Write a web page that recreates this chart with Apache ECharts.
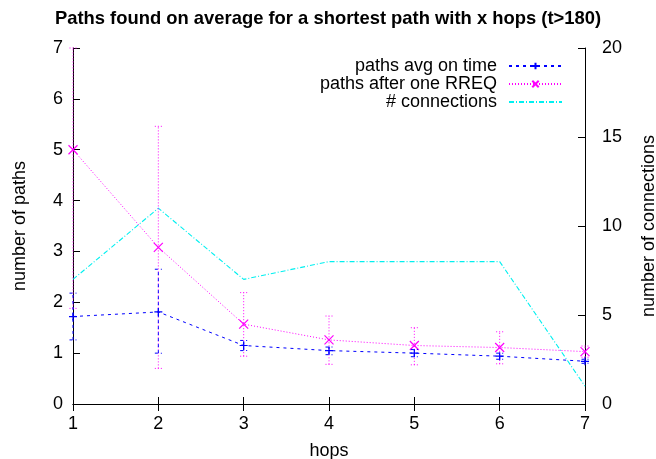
<!DOCTYPE html>
<html>
<head>
<meta charset="utf-8">
<script src="https://cdn.jsdelivr.net/npm/echarts@6/dist/echarts.min.js"></script>
<style>
  html, body { margin: 0; padding: 0; background: #fff; overflow: hidden; }
  #chart { width: 656px; height: 459px; }
</style>
</head>
<body>
<div id="chart"></div>
<script>
// hop counts on the x axis
const hops = [1, 2, 3, 4, 5, 6, 7];

// average number of paths found in time, with error range
const avgOnTime     = [1.72, 1.81, 1.15, 1.05, 1.00, 0.94, 0.84];
const avgOnTimeLow  = [1.26, 1.00, 1.05, 0.97, 0.93, 0.88, 0.80];
const avgOnTimeHigh = [2.18, 2.65, 1.25, 1.12, 1.07, 1.00, 0.88];

// paths found after a single RREQ, with error range
const afterRreq     = [5.00, 3.08, 1.57, 1.26, 1.15, 1.11, 1.03];
const afterRreqLow  = [1.88, 0.70, 0.94, 0.78, 0.77, 0.79, 0.92];
const afterRreqHigh = [7.00, 5.46, 2.19, 1.73, 1.50, 1.42, 1.14];

// number of connections (right axis)
const connections = [7, 11, 7, 8, 8, 8, 1];

const FONT = 'Liberation Sans, Arial, sans-serif';
const FS = 18;
const BLUE = '#0000ff', MAGENTA = '#ff00ff', CYAN = '#00f0f0';

const pairs = (ys) => hops.map((x, i) => [x, ys[i]]);
const ranges = (lo, hi) => hops.map((x, i) => [x, lo[i], hi[i]]);

function errorBars(color, dash) {
  return function (params, api) {
    const x = api.value(0);
    const lo = api.coord([x, api.value(1)]);
    const hi = api.coord([x, api.value(2)]);
    const w = 3.5;
    const style = { stroke: color, lineWidth: 1, lineDash: dash, fill: null };
    return {
      type: 'group',
      children: [
        { type: 'line', shape: { x1: lo[0], y1: lo[1], x2: hi[0], y2: hi[1] }, style },
        { type: 'line', shape: { x1: lo[0] - w, y1: lo[1], x2: lo[0] + w, y2: lo[1] }, style },
        { type: 'line', shape: { x1: hi[0] - w, y1: hi[1], x2: hi[0] + w, y2: hi[1] }, style }
      ]
    };
  };
}

const plusSym = 'path://M0,5L10,5M5,0L5,10';
const crossSym = 'path://M0,0L10,10M0,10L10,0';

const axisLine = { show: true, lineStyle: { color: '#000', width: 1 } };
const tick = { show: true, inside: true, length: 7, lineStyle: { color: '#000', width: 1 } };
const label = { color: '#000', fontFamily: FONT, fontSize: FS };
const nameStyle = { color: '#000', fontFamily: FONT, fontSize: FS };

function legendRow(name, top, hideSymbol) {
  const row = {
    data: [name], right: 93, top: top, orient: 'horizontal', align: 'right',
    padding: 0, itemWidth: 53, itemHeight: 8,
    textStyle: { color: '#000', fontFamily: FONT, fontSize: FS, padding: [0, 7, 0, 0] },
    selectedMode: false
  };
  if (hideSymbol) row.itemStyle = { opacity: 0 };
  return row;
}

const chart = echarts.init(document.getElementById('chart'), null, { renderer: 'canvas' });
chart.setOption({
  backgroundColor: '#fff',
  animation: false,
  title: {
    text: 'Paths found on average for a shortest path with x hops (t>180)',
    left: 'center', top: 5,
    textStyle: { color: '#000', fontFamily: FONT, fontSize: 18.4, fontWeight: 'bold' }
  },
  legend: [
    legendRow('paths avg on time', 57),
    legendRow('paths after one RREQ', 75),
    legendRow('# connections', 93, true)
  ],
  grid: { left: 73, right: 71, top: 48, bottom: 55, containLabel: false, outerBoundsMode: 'none' },
  xAxis: [
    {
      type: 'value', min: 1, max: 7, interval: 1, position: 'bottom',
      name: 'hops', nameLocation: 'middle', nameGap: 38, nameTextStyle: nameStyle,
      axisLine, axisTick: tick, axisLabel: { ...label, margin: 11 }, splitLine: { show: false }
    },
    {
      type: 'value', min: 1, max: 7, interval: 1, position: 'top',
      axisLine, axisTick: tick, axisLabel: { show: false }, splitLine: { show: false }
    }
  ],
  yAxis: [
    {
      type: 'value', min: 0, max: 7, interval: 1, position: 'left',
      name: 'number of paths', nameLocation: 'middle', nameGap: 44, nameTextStyle: nameStyle,
      axisLine, axisTick: tick, axisLabel: { ...label, margin: 10 }, splitLine: { show: false }
    },
    {
      type: 'value', min: 0, max: 20, interval: 5, position: 'right',
      name: 'number of connections', nameLocation: 'middle', nameGap: 55, nameRotate: 90,
      nameTextStyle: nameStyle,
      axisLine, axisTick: tick, axisLabel: { ...label, margin: 17 }, splitLine: { show: false }
    }
  ],
  series: [
    {
      name: 'paths avg on time', type: 'line', xAxisIndex: 0, yAxisIndex: 0,
      data: pairs(avgOnTime),
      symbol: plusSym, symbolSize: 8, showAllSymbol: true,
      lineStyle: { color: BLUE, width: 1, type: [3, 4] },
      itemStyle: { color: 'rgba(0,0,0,0)', borderColor: BLUE, borderWidth: 1.2 },
      z: 5
    },
    {
      name: 'paths after one RREQ', type: 'line', xAxisIndex: 0, yAxisIndex: 0,
      data: pairs(afterRreq),
      symbol: crossSym, symbolSize: 9, showAllSymbol: true,
      lineStyle: { color: MAGENTA, width: 1, type: [1, 2] },
      itemStyle: { color: 'rgba(0,0,0,0)', borderColor: MAGENTA, borderWidth: 1.2 },
      z: 4
    },
    {
      name: '# connections', type: 'line', xAxisIndex: 0, yAxisIndex: 1,
      data: pairs(connections),
      symbol: 'none',
      lineStyle: { color: CYAN, width: 1.1, type: [5, 2, 1, 2] },
      itemStyle: { color: CYAN },
      z: 3
    },
    {
      type: 'custom', xAxisIndex: 0, yAxisIndex: 0, silent: true, z: 5,
      renderItem: errorBars(BLUE, [3, 3]),
      encode: { x: 0, y: [1, 2] },
      data: ranges(avgOnTimeLow, avgOnTimeHigh)
    },
    {
      type: 'custom', xAxisIndex: 0, yAxisIndex: 0, silent: true, z: 4,
      renderItem: errorBars(MAGENTA, [1, 2]),
      encode: { x: 0, y: [1, 2] },
      data: ranges(afterRreqLow, afterRreqHigh)
    }
  ]
});
</script>
</body>
</html>
